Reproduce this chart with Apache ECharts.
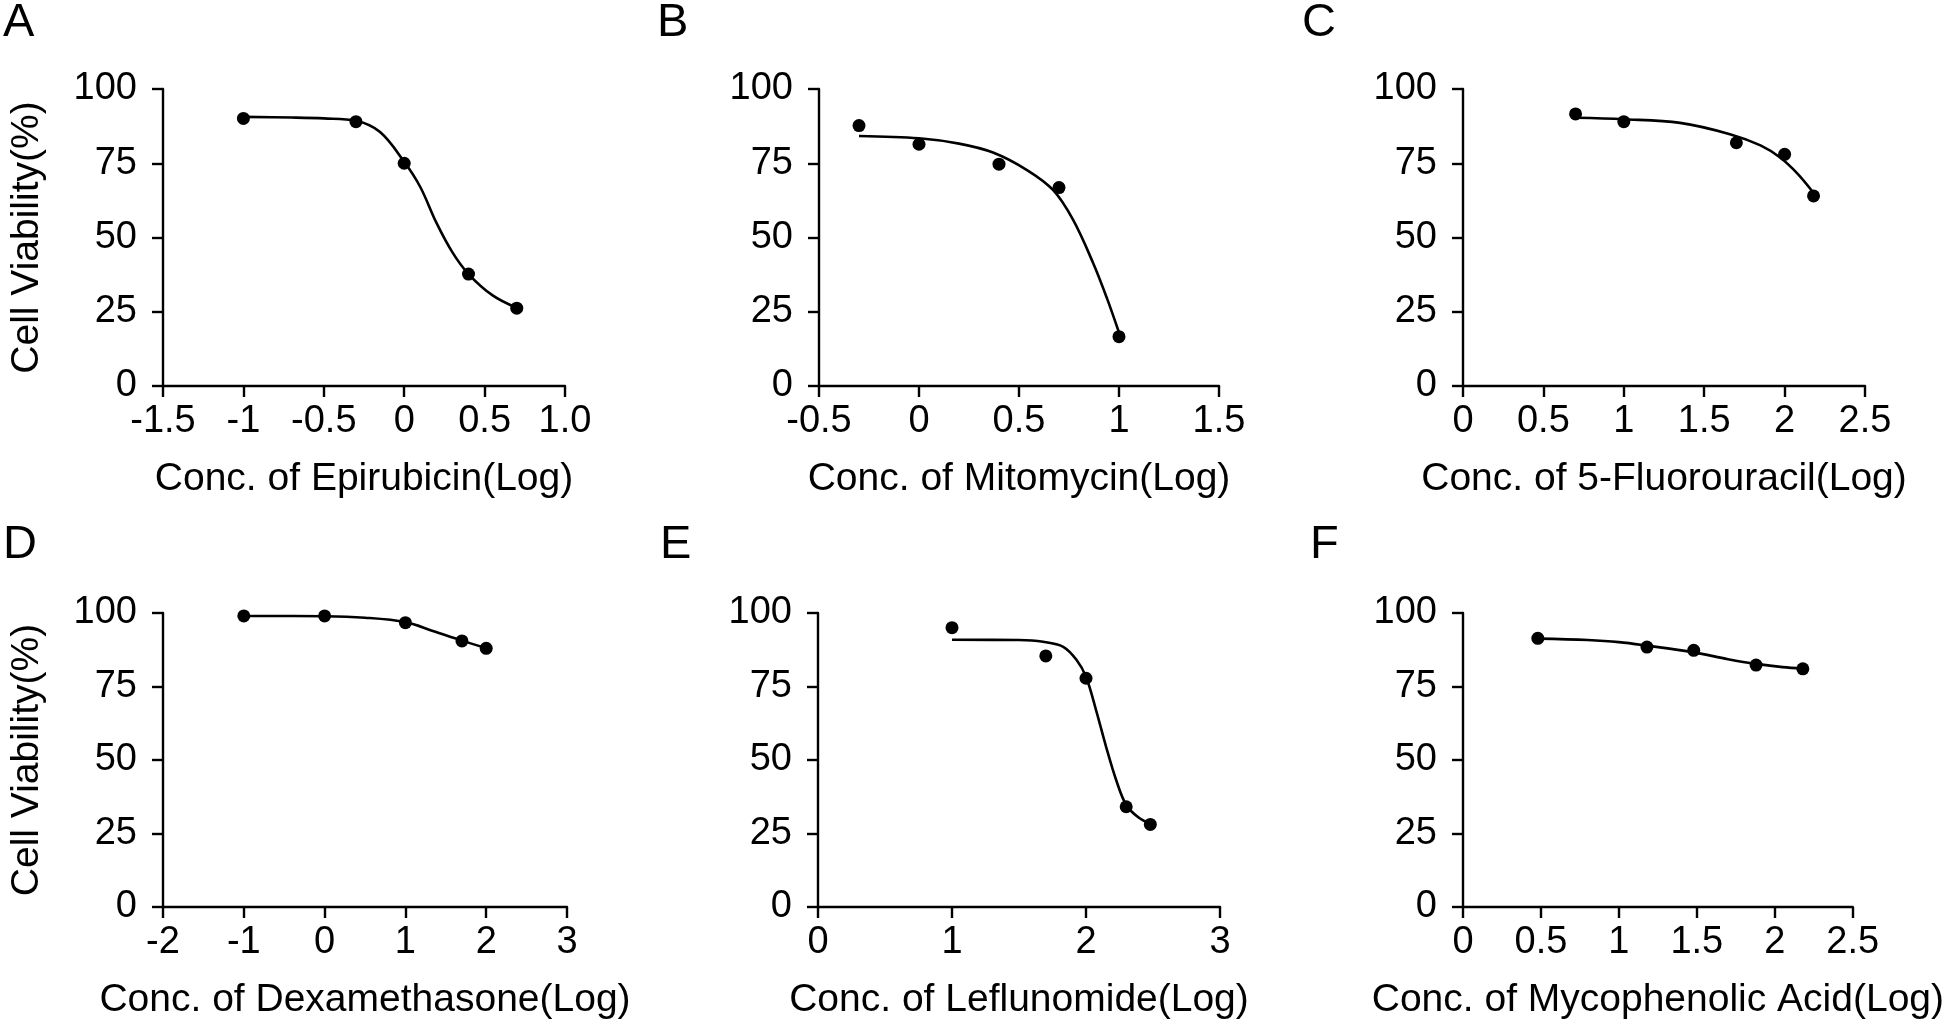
<!DOCTYPE html>
<html><head><meta charset="utf-8">
<script src="https://cdn.jsdelivr.net/npm/echarts@6/dist/echarts.min.js"></script>
<style>html,body{margin:0;padding:0;background:#fff}#c{width:1946px;height:1028px}</style>
</head><body><div id="c"></div>
<script>
// ---- data ----
const panelLetters = ['A','B','C','D','E','F'];
const xTitles = ['Conc. of Epirubicin(Log)','Conc. of Mitomycin(Log)','Conc. of 5-Fluorouracil(Log)',
                 'Conc. of Dexamethasone(Log)','Conc. of Leflunomide(Log)','Conc. of Mycophenolic Acid(Log)'];
const yTitle = 'Cell Viability(%)';
const yTickLabels = ['0','25','50','75','100'];
const xTickLabelsA = ['-1.5','-1','-0.5','0','0.5','1.0'];
const xTickLabelsB = ['-0.5','0','0.5','1','1.5'];
const xTickLabelsC = ['0','0.5','1','1.5','2','2.5'];
const xTickLabelsD = ['-2','-1','0','1','2','3'];
const xTickLabelsE = ['0','1','2','3'];
const xTickLabelsF = ['0','0.5','1','1.5','2','2.5'];

const concA = [-1, -0.3, 0, 0.4, 0.7];
const viabA = [90.1, 89.0, 75.0, 37.7, 26.2];
const concB = [-0.3, 0, 0.4, 0.7, 1.0];
const viabB = [87.7, 81.4, 74.7, 66.8, 16.6];
const concC = [0.7, 1.0, 1.7, 2.0, 2.18];
const viabC = [91.6, 89.0, 81.9, 78.0, 64.0];
const concD = [-1, 0, 1, 1.7, 2.0];
const viabD = [99.0, 99.0, 96.7, 90.5, 88.0];
const concE = [1.0, 1.7, 2.0, 2.3, 2.48];
const viabE = [95.0, 85.4, 77.8, 34.1, 28.1];
const concF = [0.48, 1.18, 1.48, 1.88, 2.18];
const viabF = [91.4, 88.4, 87.3, 82.3, 81.0];

// fitted curves
const fitXA = [-1, -0.7, -0.5, -0.3, -0.15, 0, 0.1, 0.2, 0.3, 0.4, 0.55, 0.7];
const fitYA = [90.6, 90.4, 90.1, 89.3, 85.5, 75.5, 67, 55, 45, 37.7, 30.5, 26.3];
const fitXB = [-0.3, 0, 0.2, 0.37, 0.54, 0.67, 0.77, 0.87, 0.94, 1.0];
const fitYB = [84.2, 83.4, 81.6, 78.6, 72.7, 66.0, 56.0, 41.5, 29.5, 18.0];
const fitXC = [0.7, 1.0, 1.35, 1.66, 1.85, 1.97, 2.08, 2.18];
const fitYC = [90.3, 89.8, 88.6, 84.8, 81.0, 77.0, 71.5, 65.0];
const fitXD = [-1, 0, 0.5, 1.0, 1.35, 1.7, 2.0];
const fitYD = [99.0, 98.9, 98.4, 96.9, 93.8, 90.6, 88.1];
const fitXE = [1.0, 1.5, 1.68, 1.83, 1.93, 2.0, 2.075, 2.15, 2.225, 2.3, 2.39, 2.48];
const fitYE = [90.9, 90.8, 90.2, 88.5, 84.0, 78.3, 67.0, 54.5, 43.2, 34.7, 30.5, 28.2];
const fitXF = [0.48, 0.8, 1.0, 1.18, 1.48, 1.7, 1.88, 2.05, 2.18];
const fitYF = [91.3, 90.8, 90.1, 88.9, 86.6, 84.3, 82.7, 81.6, 81.2];

// ---- layout ----
const panels = [
  {x:concA,y:viabA,fx:fitXA,fy:fitYA,ticks:xTickLabelsA,min:-1.5,max:1.0,step:0.5},
  {x:concB,y:viabB,fx:fitXB,fy:fitYB,ticks:xTickLabelsB,min:-0.5,max:1.5,step:0.5},
  {x:concC,y:viabC,fx:fitXC,fy:fitYC,ticks:xTickLabelsC,min:0,max:2.5,step:0.5},
  {x:concD,y:viabD,fx:fitXD,fy:fitYD,ticks:xTickLabelsD,min:-2,max:3,step:1},
  {x:concE,y:viabE,fx:fitXE,fy:fitYE,ticks:xTickLabelsE,min:0,max:3,step:1},
  {x:concF,y:viabF,fx:fitXF,fy:fitYF,ticks:xTickLabelsF,min:0,max:2.5,step:0.5}
];
const gridBoxes = [
  {left:163, top:89, width:402, height:297},
  {left:819, top:89, width:400, height:297},
  {left:1463, top:89, width:402, height:297},
  {left:163, top:613, width:404, height:294},
  {left:818, top:613, width:402, height:294},
  {left:1463, top:613, width:402, height:294}
];
const letterPos = [[3,0],[657,0],[1302,0],[3,522],[660,522],[1310,522]];

const FONT = 'Liberation Sans';
const axisLine = {show:true, onZero:false, lineStyle:{color:'#000', width:2.4}};
const axisTick = {show:true, inside:false, length:11, lineStyle:{color:'#000', width:2.4}};

const option = {
  animation:false,
  backgroundColor:'#fff',
  textStyle:{fontFamily:FONT},
  grid: gridBoxes.map(g => Object.assign({containLabel:false}, g)),
  xAxis: panels.map((p,i) => ({
    type:'value', gridIndex:i, min:p.min, max:p.max, interval:p.step,
    name:xTitles[i], nameLocation:'middle', nameGap:74,
    nameTextStyle:{color:'#000', fontSize:39, fontFamily:FONT},
    axisLine, axisTick, splitLine:{show:false},
    axisLabel:{color:'#000', fontSize:38, fontFamily:FONT, margin:17,
      formatter:(v)=>{const k=Math.round((v-p.min)/p.step); return p.ticks[k]!==undefined?p.ticks[k]:'';}}
  })),
  yAxis: panels.map((p,i) => ({
    type:'value', gridIndex:i, min:0, max:100, interval:25,
    name:(i===0||i===3)?yTitle:'', nameLocation:'middle', nameGap:116, nameRotate:90,
    nameTextStyle:{color:'#000', fontSize:39, fontFamily:FONT},
    axisLine, axisTick, splitLine:{show:false},
    axisLabel:{color:'#000', fontSize:38, fontFamily:FONT, margin:26,
      formatter:(v)=>yTickLabels[Math.round(v/25)]}
  })),
  series: [].concat(...panels.map((p,i)=>[
    {type:'line', xAxisIndex:i, yAxisIndex:i, data:p.fx.map((x,k)=>[x,p.fy[k]]),
     smooth:0.35, showSymbol:false, symbol:'none', lineStyle:{color:'#000', width:2.6}, z:2, silent:true},
    {type:'scatter', xAxisIndex:i, yAxisIndex:i, data:p.x.map((x,k)=>[x,p.y[k]]),
     symbol:'circle', symbolSize:13, itemStyle:{color:'#000', opacity:1}, z:3, silent:true}
  ])),
  graphic: panelLetters.map((L,i)=>({
    type:'text', left:letterPos[i][0], top:letterPos[i][1],
    style:{text:L, fontSize:47, fontFamily:FONT, fill:'#000'}
  }))
};
const chart = echarts.init(document.getElementById('c'), null, {renderer:'canvas'});
chart.setOption(option);
</script></body></html>
